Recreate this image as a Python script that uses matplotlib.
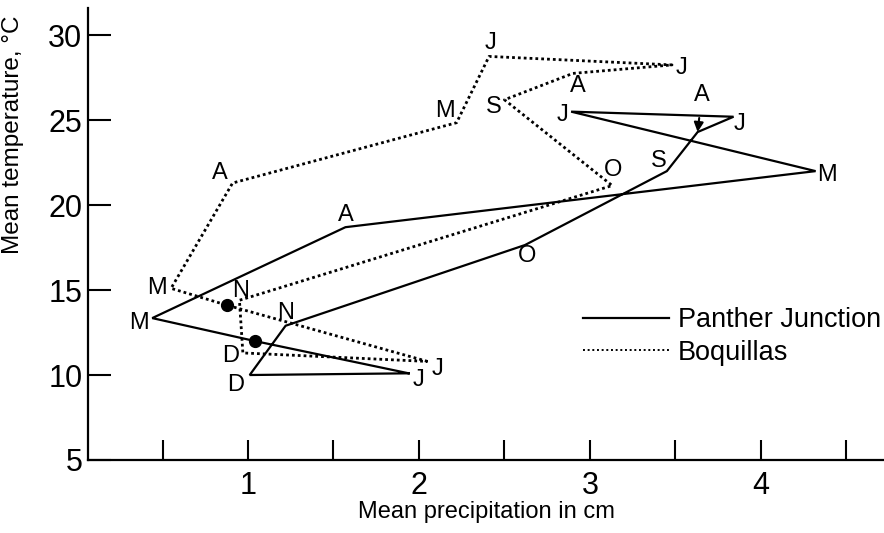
import numpy as np
import matplotlib
matplotlib.use("Agg")
import matplotlib.pyplot as plt
from matplotlib.lines import Line2D

plt.rcParams['font.family'] = ['Liberation Sans', 'DejaVu Sans']

# monthly means, Jan..Dec
months = ['J', 'F', 'M', 'A', 'M', 'J', 'J', 'A', 'S', 'O', 'N', 'D']

pj_precip = [1.94, 1.04, 0.44, 1.57, 4.32, 2.89, 3.84, 3.63, 3.45, 2.62, 1.22, 1.01]
pj_temp = [10.1, 12.0, 13.35, 18.7, 22.0, 25.5, 25.2, 24.3, 22.0, 17.65, 12.9, 10.0]

bq_precip = [2.05, 0.88, 0.55, 0.91, 2.22, 2.41, 3.48, 2.90, 2.50, 3.13, 0.95, 0.97]
bq_temp = [10.8, 14.1, 15.1, 21.3, 24.85, 28.75, 28.25, 27.75, 26.2, 21.15, 14.4, 11.3]

# label offsets in points (None -> February, shown as a dot)
pj_off = [(7, -5), None, (-9.5, -3.6), (0, 9), (8, -3), (-6, -2.2),
          (4, -5), 'arrow', (-5.5, 7), (1.4, -8), (0, 9), (-10, -7)]
bq_off = [(7.5, -5.5), None, (-10, 0), (-9, 7), (-8.5, 8.5), (0.7, 9.5),
          (6.5, -2.2), (3.6, -9), (-7.5, -5), (0.7, 11.5), (0.7, 6.5), (-8.5, -2.2)]

fig = plt.figure(figsize=(8.84, 5.33), dpi=100)
ax = fig.add_axes([0.0995, 0.137, 0.9005, 0.848])

# closed loops Jan -> Dec -> Jan
ax.plot(pj_precip + pj_precip[:1], pj_temp + pj_temp[:1], color='k', lw=1.6,
        solid_joinstyle='miter')
ax.plot(bq_precip + bq_precip[:1], bq_temp + bq_temp[:1], color='k', lw=2.0,
        linestyle=(0, (1, 1.1)))
ax.plot([pj_precip[1], bq_precip[1]], [pj_temp[1], bq_temp[1]], 'o', color='k',
        ms=8.5, ls='none')

lab_font = dict(fontsize=17, ha='center', va='center')
for i, m in enumerate(months):
    off = pj_off[i]
    if off == 'arrow':
        ax.annotate(m, xy=(pj_precip[i], pj_temp[i]), xytext=(3, 27),
                    textcoords='offset points', **lab_font,
                    arrowprops=dict(arrowstyle='-|>', color='k', lw=1.5,
                                    shrinkA=7, shrinkB=0, mutation_scale=14))
    elif off is not None:
        ax.annotate(m, xy=(pj_precip[i], pj_temp[i]), xytext=off,
                    textcoords='offset points', **lab_font)
    off = bq_off[i]
    if off is not None:
        ax.annotate(m, xy=(bq_precip[i], bq_temp[i]), xytext=off,
                    textcoords='offset points', **lab_font)

ax.set_xlim(0.064, 4.72)
ax.set_ylim(5, 31.6)
ax.set_xticks(np.arange(0.5, 4.6, 0.5))
ax.set_xticklabels(['' if t % 1 else str(int(t)) for t in np.arange(0.5, 4.6, 0.5)])
ax.set_yticks([5, 10, 15, 20, 25, 30])

ax.tick_params(axis='x', direction='in', length=14.5, width=1.5, pad=8, labelsize=22)
ax.tick_params(axis='y', direction='in', length=16.5, width=1.5, pad=4, labelsize=22)
for s in ['top', 'right']:
    ax.spines[s].set_visible(False)
for s in ['left', 'bottom']:
    ax.spines[s].set_linewidth(1.6)

ax.set_xlabel('Mean precipitation in cm', fontsize=17, labelpad=0)
ax.set_ylabel('Mean temperature, °C', fontsize=17.5)
ax.yaxis.set_label_coords(-0.08, 0.72)

handles = [Line2D([], [], color='k', lw=1.6),
           Line2D([], [], color='k', lw=1.4, linestyle=(0, (1, 1.4)))]
ax.legend(handles, ['Panther Junction', 'Boquillas'], frameon=False,
          fontsize=19.5, handlelength=3.2, handletextpad=0.3, labelspacing=0.25,
          loc='upper left', bbox_to_anchor=(0.608, 0.362), borderaxespad=0)

fig.savefig('out.png', dpi=100)
